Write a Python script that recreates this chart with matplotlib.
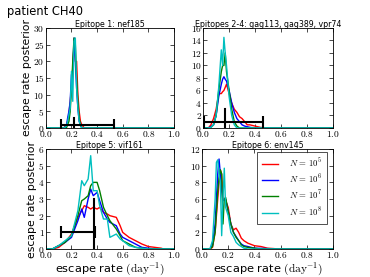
import numpy as np
import matplotlib
matplotlib.use("Agg")
import matplotlib.pyplot as plt
from matplotlib.ticker import FormatStrFormatter, MultipleLocator

plt.rcParams['mathtext.fontset'] = 'cm'
plt.rcParams['font.family'] = ['DejaVu Sans']

labels = [r'$N\,=\,10^5$', r'$N\,=\,10^6$', r'$N\,=\,10^7$', r'$N\,=\,10^8$']
colors = ['red', 'blue', 'green', 'c']
titles = ['Epitope 1: nef185', 'Epitopes 2-4: gag113, gag389, vpr74',
          'Epitope 5: vif161', 'Epitope 6: env145']

# Panel 1: nef185
x1 = [0.0, 0.14, 0.16, 0.17, 0.18, 0.19, 0.20, 0.21, 0.22, 0.23, 0.24, 0.25, 0.26, 0.27, 0.28, 0.30, 1.0]
r1 = [0, 0, 1, 2, 4, 8, 12, 18, 25, 20, 20, 10, 5, 2, 1, 0, 0]
b1 = [0, 0, 0.5, 3, 5, 8, 16, 17, 27, 20, 12, 6, 2, 1, 0, 0, 0]
g1 = [0, 0, 0, 1, 2, 5, 12, 20, 27, 25, 15, 8, 3, 1, 0, 0, 0]
c1 = [0, 0, 0.5, 2, 4, 6, 17, 8, 26, 27, 12, 6, 2, 1, 0, 0, 0]

# Panel 2: gag113, gag389, vpr74
x2 = [0.0, 0.04, 0.06, 0.08, 0.10, 0.12, 0.14, 0.15, 0.16, 0.17, 0.18, 0.20, 0.22, 0.24, 0.26, 0.28, 0.30, 0.32, 0.34, 0.36, 0.40, 0.44, 0.48, 1.0]
r2 = [0, 0, 0.5, 1.5, 3, 5.5, 5.5, 5.8, 6, 6.5, 7, 5.5, 4, 3, 2.5, 1.8, 1.5, 1, 0.5, 0.5, 0.3, 0.1, 0, 0]
b2 = [0, 0, 0.2, 0.5, 2, 5, 7, 7.8, 8.2, 7.8, 7.5, 6, 4, 2.5, 1.5, 1, 0.5, 0.3, 0.2, 0.1, 0, 0, 0, 0]
g2 = [0, 0, 0.1, 0.5, 2, 6, 9, 10, 10, 12, 9, 6, 3, 1, 0.3, 0, 0, 0, 0, 0, 0, 0, 0, 0]
c2 = [0, 0, 0.1, 0.5, 2, 6.5, 12.5, 10, 14.5, 12, 10, 5, 2, 0.5, 0, 0, 0, 0, 0, 0, 0, 0, 0, 0]

# Panel 3: vif161
x3 = [0.0, 0.05, 0.10, 0.15, 0.20, 0.25, 0.28, 0.30, 0.33, 0.35, 0.37, 0.40, 0.42, 0.45, 0.48, 0.50, 0.55, 0.58, 0.60, 0.65, 0.70, 0.75, 0.80, 0.85, 0.90, 0.92, 1.0]
r3 = [0, 0, 0.1, 0.4, 0.9, 1.9, 2.3, 2.6, 2.5, 2.4, 2.5, 2.4, 2.5, 2.2, 2.1, 2.0, 1.9, 1.4, 1.0, 0.7, 0.5, 0.3, 0.15, 0.1, 0.05, 0, 0]
b3 = [0, 0, 0.2, 0.4, 0.7, 1.7, 2.4, 1.9, 3.0, 3.6, 3.2, 3.4, 2.9, 2.2, 1.8, 1.6, 1.4, 0.9, 0.7, 0.5, 0.3, 0.1, 0.05, 0, 0, 0, 0]
g3 = [0, 0, 0.2, 0.4, 0.8, 2.0, 2.9, 3.0, 3.2, 3.8, 4.0, 4.0, 3.5, 2.5, 2.0, 1.7, 1.2, 0.8, 0.5, 0.3, 0.1, 0.05, 0, 0, 0, 0, 0]
c3 = [0, 0, 0.2, 0.5, 0.8, 2.3, 4.1, 3.8, 4.2, 5.6, 3.5, 3.5, 2.6, 1.8, 1.8, 0.7, 0.9, 0.6, 0.5, 0.2, 0.1, 0.05, 0, 0, 0, 0, 0]

# Panel 4: env145
x4 = [0.0, 0.06, 0.08, 0.10, 0.11, 0.12, 0.13, 0.14, 0.15, 0.16, 0.17, 0.18, 0.20, 0.22, 0.24, 0.26, 0.28, 0.30, 0.32, 0.35, 0.40, 0.45, 0.50, 0.55, 0.58, 0.60, 1.0]
r4 = [0, 0, 0.2, 2, 4, 6, 8, 9.5, 9, 6, 5.9, 5.8, 5, 3, 2.3, 2.5, 2, 1.3, 1, 0.7, 0.4, 0.3, 0.1, 0.05, 0, 0, 0]
b4 = [0, 0, 0.5, 3, 6, 9, 10.8, 9, 7, 5.8, 5.9, 6, 4.5, 3, 2, 1.5, 1, 0.6, 0.4, 0.3, 0.1, 0.08, 0.05, 0.02, 0, 0, 0]
g4 = [0, 0, 0.3, 2, 4.5, 7, 8.5, 9.5, 9, 3, 6, 6.2, 4.5, 3, 2, 1.4, 1, 0.5, 0.3, 0.2, 0.1, 0, 0, 0, 0, 0, 0]
c4 = [0, 0, 1, 6, 10.4, 10.7, 9, 8, 1.6, 6, 9.7, 5, 4, 2, 1.5, 0.8, 0.5, 0.3, 0.1, 0, 0, 0, 0, 0, 0, 0, 0]

# credible intervals: (low, median, high)
ci = [(0.12, 0.22, 0.53), (0.005, 0.17, 0.46), (0.12, 0.375, 0.38), None]
ymax = [30, 16, 6, 12]
ystep = [5, 2, 1, 2]

xs = [x1, x2, x3, x4]
ys = [[r1, b1, g1, c1], [r2, b2, g2, c2], [r3, b3, g3, c3], [r4, b4, g4, c4]]

fig = plt.figure(figsize=(3.70, 2.77), dpi=100)
boxes = [(0.124, 0.538, 0.346, 0.361), (0.549, 0.538, 0.351, 0.361),
         (0.124, 0.101, 0.346, 0.361), (0.546, 0.101, 0.354, 0.361)]

for i in range(4):
    ax = fig.add_axes(boxes[i])
    for yv, col, lab in zip(ys[i], colors, labels):
        ax.plot(xs[i], yv, color=col, lw=1.0, label=lab)
    if ci[i] is not None:
        lo, med, hi = ci[i]
        ax.errorbar([med], [1], xerr=[[med - lo], [hi - med]], fmt='none',
                    ecolor='k', elinewidth=1.5, capsize=4, capthick=1.5)
        ax.plot([med, med], [0, 3], color='k', lw=1.5)
    ax.set_xlim(0, 1)
    ax.set_ylim(0, ymax[i])
    ax.xaxis.set_major_locator(MultipleLocator(0.2))
    ax.yaxis.set_major_locator(MultipleLocator(ystep[i]))
    ax.xaxis.set_major_formatter(FormatStrFormatter('$%.1f$'))
    ax.yaxis.set_major_formatter(FormatStrFormatter('$%d$'))
    ax.tick_params(direction='in', top=True, right=True, labelsize=6.8,
                   length=3, width=0.5, pad=1, colors='k')
    for s in ax.spines.values():
        s.set_linewidth(0.6)
    ax.set_title(titles[i], fontsize=5.7, pad=1)
    if i in (0, 2):
        ax.set_ylabel('escape rate posterior', fontsize=7.8, labelpad=1)
    if i in (2, 3):
        ax.set_xlabel(r'escape rate $(\mathrm{day}^{-1})$', fontsize=8.2, labelpad=0)
    if i == 3:
        ax.legend(loc='upper right', bbox_to_anchor=(0.954, 0.97),
                  fontsize=6.3, frameon=True, fancybox=False,
                  edgecolor='k', borderaxespad=0.0, handlelength=1.85,
                  handletextpad=1.25, labelspacing=0.38,
                  borderpad=0.55).get_frame().set_linewidth(0.6)

fig.text(0.019, 0.957, 'patient CH40', fontsize=8.3, va='center', ha='left')

fig.savefig('out.png', dpi=100)
